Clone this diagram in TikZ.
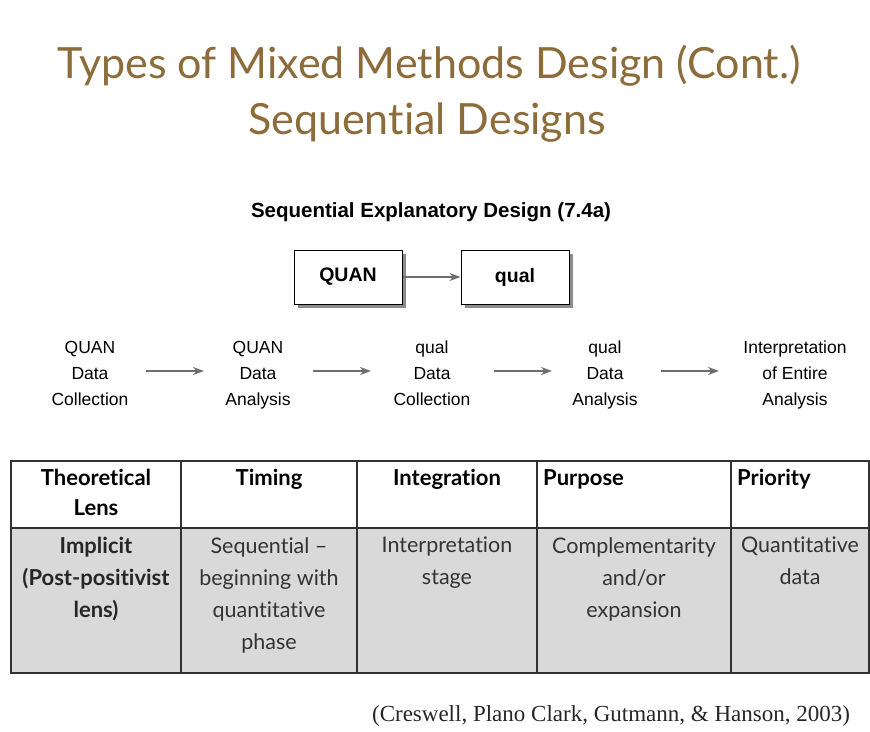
\documentclass[tikz,border=0pt]{standalone}
\usepackage{fontspec}
\setmainfont{Lato}[Ligatures={NoCommon}]
\newfontfamily\arialf{Liberation Sans}
\newfontfamily\timesf{Liberation Serif}
\usetikzlibrary{arrows.meta}
\definecolor{titlec}{RGB}{140,108,58}
\definecolor{cellg}{RGB}{217,217,217}
\definecolor{gridc}{RGB}{50,50,50}
\definecolor{arrc}{RGB}{110,110,110}
\tikzset{
  titletext/.style={text=titlec, font=\fontsize{43}{50}\selectfont, inner sep=0pt},
  boxnode/.style={draw=black, line width=1pt, fill=white, minimum width=108pt, minimum height=54pt, font=\arialf\bfseries\fontsize{19.5}{22}\selectfont},
  flowtext/.style={align=center, font=\arialf\fontsize{17.5}{26}\selectfont, inner sep=0pt},
  flowarrow/.style={draw=arrc, line width=1.5pt, -{Stealth[length=11pt,width=8pt]}},
  headtext/.style={font=\bfseries\fontsize{22}{30}\selectfont, inner sep=0pt, align=center},
  bodytext/.style={font=\fontsize{21.5}{32}\selectfont, inner sep=0pt, align=center, text=black!80},
  gridline/.style={draw=gridc, line width=1.4pt},
}
\begin{document}
\begin{tikzpicture}[x=1pt,y=-1pt]
\useasboundingbox (0,0) rectangle (870,731);
\fill[white] (0,0) rectangle (870,731);
% title
\node[titletext] (t1) at (429,66) {Types of Mixed Methods Design (Cont.)};
\node[titletext] (t2) at (427,123) {Sequential Designs};
% subtitle
\node[font=\arialf\bfseries\fontsize{20.5}{24}\selectfont] (sub) at (431,212) {Sequential Explanatory Design (7.4a)};
% boxes
\fill[black!45] (298,254) rectangle (406,308);
\fill[black!45] (465,254) rectangle (573,308);
\node[boxnode] (quan) at (348,277) {QUAN};
\node[boxnode] (qual) at (515,277) {qual};
\draw[flowarrow] (quan) -- (qual);
% flow row
\node[flowtext] (f1) at (90,374) {\strut QUAN\\\strut Data\\\strut Collection};
\node[flowtext] (f2) at (258,374) {\strut QUAN\\\strut Data\\\strut Analysis};
\node[flowtext] (f3) at (432,374) {\strut qual\\\strut Data\\\strut Collection};
\node[flowtext] (f4) at (605,374) {\strut qual\\\strut Data\\\strut Analysis};
\node[flowtext] (f5) at (795,374) {\strut Interpretation\\\strut of Entire\\\strut Analysis};
\coordinate (a1s) at (146,371); \coordinate (a1e) at (204,371);
\coordinate (a2s) at (313,371); \coordinate (a2e) at (371,371);
\coordinate (a3s) at (494,371); \coordinate (a3e) at (552,371);
\coordinate (a4s) at (661,371); \coordinate (a4e) at (719,371);
\draw[flowarrow] (a1s) -- (a1e);
\draw[flowarrow] (a2s) -- (a2e);
\draw[flowarrow] (a3s) -- (a3e);
\draw[flowarrow] (a4s) -- (a4e);
% table
\fill[cellg] (11,528) rectangle (869,673);
\draw[gridline] (11,461) rectangle (869,673);
\draw[gridline] (11,528) -- (869,528);
\foreach \x in {181,357,537,731} \draw[gridline] (\x,461) -- (\x,673);
% header
\node[headtext, anchor=north] (h1) at (96,469) {Theoretical\\Lens};
\node[headtext, anchor=north] (h2) at (269,469) {Timing};
\node[headtext, anchor=north] (h3) at (447,469) {Integration};
\node[headtext, anchor=north west] (h4) at (543,469) {Purpose};
\node[headtext, anchor=north west] (h5) at (737,469) {Priority};
% body
\node[headtext, font=\bfseries\fontsize{22}{32}\selectfont, text=black!85, anchor=north] (b1) at (96,537) {Implicit\\(Post-positivist\\lens)};
\node[bodytext, anchor=north] (b2) at (269,537) {Sequential --\\beginning with\\quantitative\\phase};
\node[bodytext, anchor=north] (b3) at (447,537) {Interpretation\\stage};
\node[bodytext, anchor=north] (b4) at (634,537) {Complementarity\\and/or\\expansion};
\node[bodytext, anchor=north] (b5) at (800,537) {Quantitative\\data};
% citation
\node[font=\timesf\fontsize{23}{26}\selectfont, text=black!85] (cit) at (611,716) {(Creswell, Plano Clark, Gutmann, \& Hanson, 2003)};
\end{tikzpicture}
\end{document}
